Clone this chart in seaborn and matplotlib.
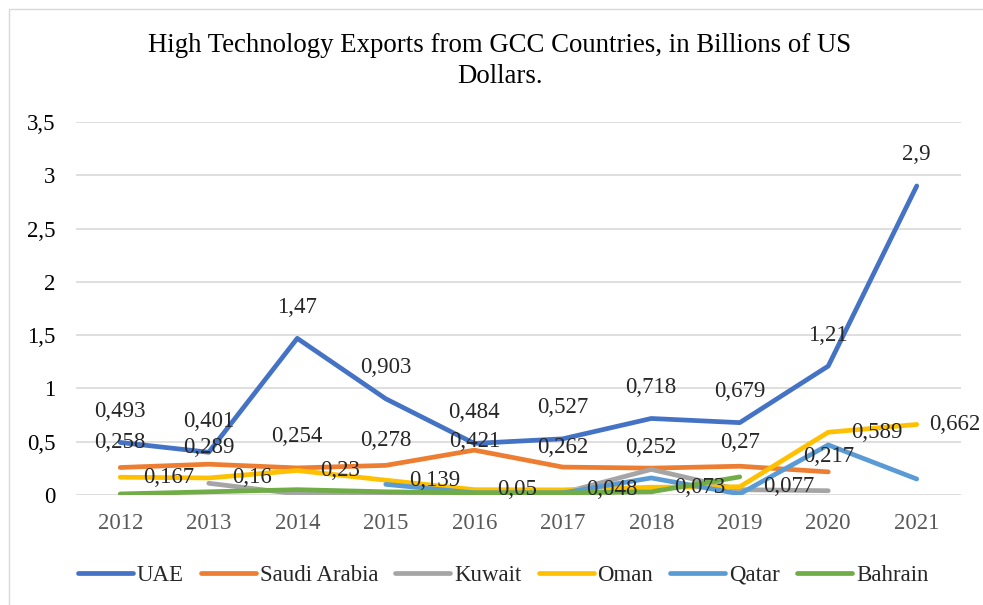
import numpy as np
import pandas as pd
import seaborn as sns
import matplotlib.pyplot as plt
from matplotlib.lines import Line2D
from matplotlib.patches import Rectangle

sns.set_theme(style="white")
plt.rcParams['font.family'] = ['Liberation Serif', 'DejaVu Serif']

years = [2012, 2013, 2014, 2015, 2016, 2017, 2018, 2019, 2020, 2021]
countries = ["UAE", "Saudi Arabia", "Kuwait", "Oman", "Qatar", "Bahrain"]

uae = [0.493, 0.401, 1.47, 0.903, 0.484, 0.527, 0.718, 0.679, 1.21, 2.9]
saudi_arabia = [0.258, 0.289, 0.254, 0.278, 0.421, 0.262, 0.252, 0.27, 0.217, np.nan]
kuwait = [np.nan, 0.11, 0.01, 0.01, 0.01, 0.02, 0.24, 0.05, 0.04, np.nan]
oman = [0.167, 0.16, 0.23, 0.139, 0.05, 0.048, 0.073, 0.077, 0.589, 0.662]
qatar = [np.nan, np.nan, np.nan, 0.10, 0.02, 0.02, 0.16, 0.01, 0.47, 0.15]
bahrain = [0.01, 0.03, 0.05, 0.03, 0.02, 0.02, 0.03, 0.17, np.nan, np.nan]

series = dict(zip(countries, [uae, saudi_arabia, kuwait, oman, qatar, bahrain]))
colors = ["#4472C4", "#ED7D31", "#A5A5A5", "#FFC000", "#5B9BD5", "#70AD47"]
palette = dict(zip(countries, colors))

df = pd.DataFrame(
    [(y, c, v) for c in countries for y, v in zip(years, series[c])],
    columns=["Year", "Country", "Value"],
).dropna()

FS = 16.5

fig = plt.figure(figsize=(9.83, 6.05), dpi=100)
ax = fig.add_axes([76 / 983, 1 - 495 / 605, 885 / 983, 373 / 605])

sns.lineplot(data=df, x="Year", y="Value", hue="Country", hue_order=countries,
             palette=palette, linewidth=3.4, ax=ax, legend=False,
             solid_capstyle="round", solid_joinstyle="round")

ax.set_xlim(2011.5, 2021.5)
ax.set_ylim(0, 3.5)
ax.set_xticks(years)
ax.set_xticklabels([str(y) for y in years], fontsize=FS, color="#595959")
yt = np.arange(0, 3.51, 0.5)
ax.set_yticks(yt)
ax.set_yticklabels([f"{v:g}".replace(".", ",") for v in yt], fontsize=FS, color="#000000")
ax.tick_params(axis="x", length=0, pad=13)
ax.tick_params(axis="y", length=0, pad=15)
ax.set_xlabel("")
ax.set_ylabel("")
ax.grid(axis="y", color="#D9D9D9", linewidth=1.2)
ax.grid(axis="x", visible=False)
for s in ax.spines.values():
    s.set_visible(False)
ax.set_axisbelow(True)


def fmt(v):
    return f"{v:g}".replace(".", ",")


# value labels: UAE and Saudi Arabia above points, Oman to the right
px = 72 / 100
for y, v in zip(years, uae):
    ax.annotate(fmt(v), (y, v), xytext=(0, 31 * px), textcoords="offset points",
                ha="center", va="center", fontsize=FS)

saudi_lift = [25, 17, 31, 25, 9, 20, 21, 24, 15]
for y, v, d in zip(years, saudi_arabia, saudi_lift):
    ax.annotate(fmt(v), (y, v), xytext=(0, d * px), textcoords="offset points",
                ha="center", va="center", fontsize=FS)

oman_shift = [23, 23, 23, 23, 23, 23, 23, 23, 23, 12]
for y, v, d in zip(years, oman, oman_shift):
    ax.annotate(fmt(v), (y, v), xytext=(d * px, 0), textcoords="offset points",
                ha="left", va="center", fontsize=FS)

fig.text(500 / 983, 1 - 61 / 605,
         "High Technology Exports from GCC Countries, in Billions of US\nDollars.",
         ha="center", va="center", multialignment="center", fontsize=19.3,
         linespacing=1.28, color="#000000")

handles = [Line2D([0], [0], color=palette[c], linewidth=3.4, solid_capstyle="round")
           for c in countries]
fig.legend(handles, countries, loc="center", bbox_to_anchor=(503 / 983, 1 - 575 / 605),
           ncol=6, frameon=False, fontsize=FS, handlelength=2.4,
           handletextpad=0.17, columnspacing=0.75)

fig.patches.append(Rectangle((8.5 / 983, -0.1), 1.2, 1.1 - 9.5 / 605,
                             transform=fig.transFigure, fill=False,
                             edgecolor="#D9D9D9", linewidth=1.0))

fig.savefig("out.png", dpi=100, facecolor="white")
